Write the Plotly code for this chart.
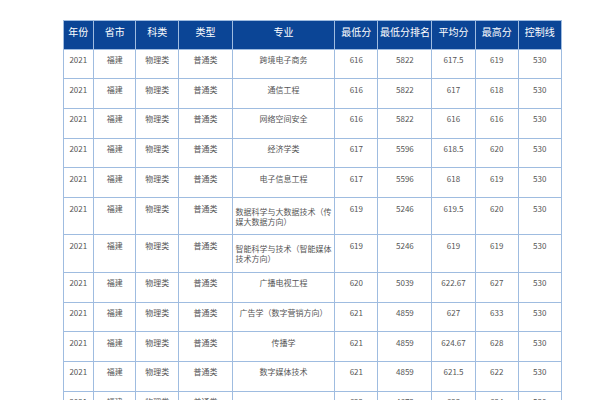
import plotly.graph_objects as go

headers = ["年份", "省市", "科类", "类型", "专业", "最低分", "最低分排名", "平均分", "最高分", "控制线"]
majors = ["跨境电子商务", "通信工程", "网络空间安全", "经济学类", "电子信息工程",
          "数据科学与大数据技术（传<br>媒大数据方向）", "智能科学与技术（智能媒体<br>技术方向）",
          "广播电视工程", "广告学（数字营销方向）", "传播学", "数字媒体技术",
          "广告学（计算广告双学士学<br>位复合型人才培养项目）"]
min_score = [616, 616, 616, 617, 617, 619, 619, 620, 621, 621, 621, 622]
min_rank = [5822, 5822, 5822, 5596, 5596, 5246, 5246, 5039, 4859, 4859, 4859, 4673]
avg_score = ["617.5", "617", "616", "618.5", "618", "619.5", "619", "622.67", "627", "624.67", "621.5", "623"]
max_score = [619, 618, 616, 620, 619, 620, 619, 627, 633, 628, 622, 624]
control = [530] * 12
n = len(majors)
years = [2021] * n
prov = ["福建"] * n
subj = ["物理类"] * n
typ = ["普通类"] * n

widths = [30.6, 42.4, 42.6, 54, 102.4, 43.3, 54, 43.3, 43.4, 42.6]

fig = go.Figure(go.Table(
    columnwidth=widths,
    domain=dict(x=[55/600, 553/600], y=[0, 1 - 12/400]),
    header=dict(values=headers, fill_color="#0b4596", line_color="#9fbce0", line_width=1,
                font=dict(color="white", size=10, family="Noto Sans CJK SC"), height=29, align="center"),
    cells=dict(values=[years, prov, subj, typ, majors, min_score, min_rank, avg_score, max_score, control],
               fill_color="white", line_color="#9fbce0", line_width=1,
               font=dict(color="#555555", size=8, family="Noto Sans CJK SC"), height=29.7, align="center"),
))
fig.update_layout(width=600, height=400, margin=dict(l=0, r=0, t=0, b=0), paper_bgcolor="white")
fig.write_html("out.html")
